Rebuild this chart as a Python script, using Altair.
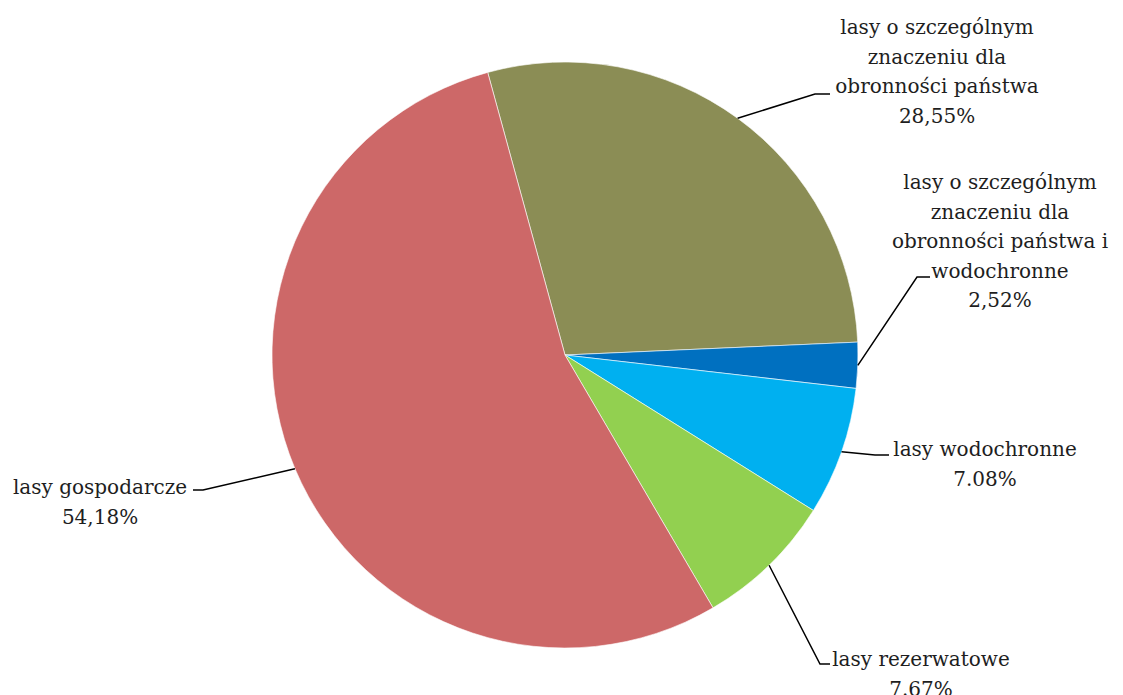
import math
import altair as alt
import pandas as pd

# ---- data ----
categories = [
    "lasy o szczególnym znaczeniu dla obronności państwa",
    "lasy o szczególnym znaczeniu dla obronności państwa i wodochronne",
    "lasy wodochronne",
    "lasy rezerwatowe",
    "lasy gospodarcze",
]
values = [28.55, 2.52, 7.08, 7.67, 54.18]
value_labels = ["28,55%", "2,52%", "7.08%", "7.67%", "54,18%"]
label_lines = [
    ["lasy o szczególnym", "znaczeniu dla", "obronności państwa"],
    ["lasy o szczególnym", "znaczeniu dla", "obronności państwa i", "wodochronne"],
    ["lasy wodochronne"],
    ["lasy rezerwatowe"],
    ["lasy gospodarcze"],
]
colors = ["#8B8D55", "#0070C0", "#00B0F0", "#92D050", "#CD6868"]

# ---- layout (pixels, view coordinates) ----
W, H = 1107, 687
CX, CY, R = 557, 347, 293
START_DEG = -15.3
# centre of first label line, leader elbow, leader end
label_center = [(929, 20), (992, 175), (977, 442), (913, 652), (92, 480)]
leader_elbow = [(807, 86), (909, 269), (867, 447), (812, 656), (195, 482)]
leader_end = [(822, 86), (922, 269), (881, 447), (822, 656), (185, 482)]

start = math.radians(START_DEG)
pie_df = pd.DataFrame({"cat": categories, "value": values, "idx": list(range(len(values)))})

pie = alt.Chart(pie_df).mark_arc(stroke="white", strokeWidth=0.6).encode(
    theta=alt.Theta("value:Q", stack=True,
                    scale=alt.Scale(range=[start, start + 2 * math.pi])),
    order=alt.Order("idx:Q"),
    color=alt.Color("cat:N", scale=alt.Scale(domain=categories, range=colors), legend=None),
    x=alt.value(CX),
    y=alt.value(CY),
    radius=alt.value(R),
)

# leader lines start at the mid-angle of each slice on the pie edge
total = sum(values)
rows = []
cum = 0.0
for i, v in enumerate(values):
    mid = start + 2 * math.pi * (cum + v / 2) / total
    cum += v
    sx = CX + R * math.sin(mid)
    sy = CY - R * math.cos(mid)
    pts = [(sx, sy), leader_elbow[i], leader_end[i]]
    for j, (px, py) in enumerate(pts):
        rows.append({"cat": categories[i], "seq": j, "px": px, "py": py})
lead_df = pd.DataFrame(rows)

leaders = alt.Chart(lead_df).mark_line(color="black", strokeWidth=1.5).encode(
    x=alt.X("px:Q", scale=None),
    y=alt.Y("py:Q", scale=None),
    detail="cat:N",
    order="seq:Q",
)

lab_df = pd.DataFrame({
    "cat": categories,
    "txt": ["\n".join(l + [v]) for l, v in zip(label_lines, value_labels)],
    "lx": [p[0] for p in label_center],
    "ly": [p[1] for p in label_center],
})
labels = alt.Chart(lab_df).mark_text(
    font="DejaVu Serif", fontSize=20, lineHeight=29.5,
    lineBreak="\n", align="center", baseline="middle", color="#1e1e1e",
).encode(
    x=alt.X("lx:Q", scale=None),
    y=alt.Y("ly:Q", scale=None),
    text="txt:N",
)

chart = alt.layer(pie, leaders, labels).properties(
    width=W, height=H, padding=0, autosize="none"
).configure_view(stroke=None)

chart.save("out.html", embed_options={"renderer": "svg", "actions": False})
